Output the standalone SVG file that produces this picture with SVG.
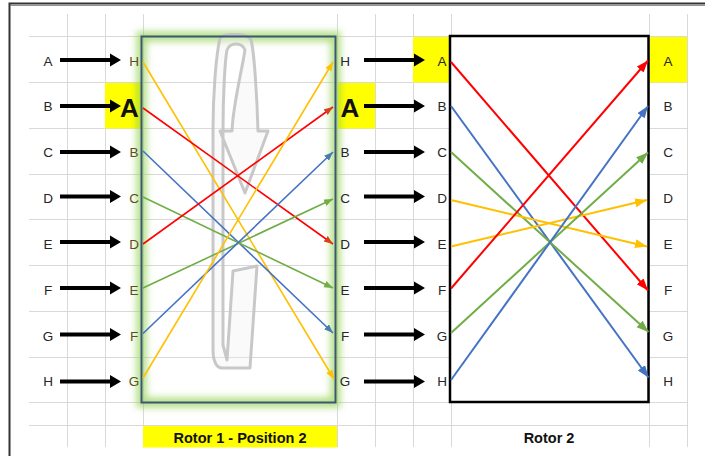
<svg xmlns="http://www.w3.org/2000/svg" xmlns:xlink="http://www.w3.org/1999/xlink" width="705" height="456" viewBox="0 0 705 456">
<style>
.grid line{stroke:#d9d9d9;stroke-width:1}
.lbl{font-family:"Liberation Sans",Arial,sans-serif;font-size:13.5px;fill:#262626;text-anchor:middle}
.r1l{fill:#5b4f24}
.big{font-family:"Liberation Sans",Arial,sans-serif;font-size:26px;font-weight:bold;fill:#111;text-anchor:middle}
.cap{font-family:"Liberation Sans",Arial,sans-serif;font-size:14.5px;font-weight:bold;fill:#111;text-anchor:middle}
.c1 line{stroke-width:1.6;fill:none}
.c2 line{stroke-width:2;fill:none}
.y{stroke:#FFC000}.r{stroke:#FF0000}.b{stroke:#4472C4}.g{stroke:#70AD47}
.hl{fill:#FFFF00}
</style>
<defs>
<filter id="glow" x="-20%" y="-10%" width="140%" height="120%"><feGaussianBlur stdDeviation="3.5"/></filter>
<path id="arr" d="M0,-2 H50 V-6.5 L61,0 L50,6.5 V2 H0 Z" fill="#000"/>
<marker id="mY1" markerUnits="userSpaceOnUse" markerWidth="10" markerHeight="8" refX="9" refY="3.5" orient="auto"><path d="M0,0 L9,3.5 L0,7 Z" fill="#FFC000"/></marker>
<marker id="mR1" markerUnits="userSpaceOnUse" markerWidth="10" markerHeight="8" refX="9" refY="3.5" orient="auto"><path d="M0,0 L9,3.5 L0,7 Z" fill="#D8401A"/></marker>
<marker id="mB1" markerUnits="userSpaceOnUse" markerWidth="10" markerHeight="8" refX="9" refY="3.5" orient="auto"><path d="M0,0 L9,3.5 L0,7 Z" fill="#4a7cb4"/></marker>
<marker id="mG1" markerUnits="userSpaceOnUse" markerWidth="10" markerHeight="8" refX="9" refY="3.5" orient="auto"><path d="M0,0 L9,3.5 L0,7 Z" fill="#70AD47"/></marker>
<marker id="mY2" markerUnits="userSpaceOnUse" markerWidth="13" markerHeight="10" refX="12" refY="4.5" orient="auto"><path d="M0,0 L12,4.5 L0,9 Z" fill="#FFC000"/></marker>
<marker id="mR2" markerUnits="userSpaceOnUse" markerWidth="13" markerHeight="10" refX="12" refY="4.5" orient="auto"><path d="M0,0 L12,4.5 L0,9 Z" fill="#FF0000"/></marker>
<marker id="mB2" markerUnits="userSpaceOnUse" markerWidth="13" markerHeight="10" refX="12" refY="4.5" orient="auto"><path d="M0,0 L12,4.5 L0,9 Z" fill="#4472C4"/></marker>
<marker id="mG2" markerUnits="userSpaceOnUse" markerWidth="13" markerHeight="10" refX="12" refY="4.5" orient="auto"><path d="M0,0 L12,4.5 L0,9 Z" fill="#70AD47"/></marker>
</defs>
<rect x="0" y="0" width="705" height="456" fill="#fff"/>
<!-- sheet frame -->
<path d="M9.5,456 V3.5 H705" fill="none" stroke="#333" stroke-width="2"/>
<path d="M10,5.5 H705" fill="none" stroke="#777" stroke-width="0.8"/>
<!-- grid -->
<g class="grid">
<line x1="29" y1="36.5" x2="687.5" y2="36.5"/>
<line x1="29" y1="82.5" x2="687.5" y2="82.5"/>
<line x1="29" y1="128.5" x2="687.5" y2="128.5"/>
<line x1="29" y1="174.5" x2="687.5" y2="174.5"/>
<line x1="29" y1="219.5" x2="687.5" y2="219.5"/>
<line x1="29" y1="265.5" x2="687.5" y2="265.5"/>
<line x1="29" y1="311.5" x2="687.5" y2="311.5"/>
<line x1="29" y1="357.5" x2="687.5" y2="357.5"/>
<line x1="29" y1="402.5" x2="687.5" y2="402.5"/>
<line x1="29" y1="425.5" x2="687.5" y2="425.5"/>
<line x1="67.5" y1="14" x2="67.5" y2="447"/>
<line x1="105.5" y1="14" x2="105.5" y2="447"/>
<line x1="143.5" y1="14" x2="143.5" y2="447"/>
<line x1="337.5" y1="14" x2="337.5" y2="447"/>
<line x1="375.5" y1="14" x2="375.5" y2="447"/>
<line x1="413.5" y1="14" x2="413.5" y2="447"/>
<line x1="451.5" y1="14" x2="451.5" y2="447"/>
<line x1="649.5" y1="14" x2="649.5" y2="447"/>
<line x1="687.5" y1="14" x2="687.5" y2="447"/>
</g>
<!-- highlighted cells -->
<rect class="hl" x="105" y="83" width="37" height="45.5"/>
<rect class="hl" x="338" y="83" width="37" height="45.5"/>
<rect class="hl" x="413" y="37" width="37" height="45.5"/>
<rect class="hl" x="650" y="37" width="37" height="45.5"/>
<rect class="hl" x="143" y="426" width="194" height="21.5"/>
<!-- rotor 1 node -->
<g id="rotor1">
<rect x="141.5" y="36.5" width="194" height="366" fill="none" stroke="#92D050" stroke-width="10" opacity="0.7" filter="url(#glow)"/>
<path d="M245,193 L268,131 L258,131 C257,95 254,50 251,40 C248,33 224,33 220,38 C216,55 213,95 213,130 L213,350 C213,362 217,368 222,368 L250,368 L257,266 L233,271 L227,360 L223,345 L223,130 C223,95 225,60 227,50 C230,42 242,42 245,50 C242,70 233,105 232,131 L220,131 Z" fill="#f2f2f2" fill-opacity="0.35" stroke="#c2c2c2" stroke-opacity="0.9" stroke-width="3" stroke-linejoin="round"/>
<rect x="141.5" y="36.5" width="194" height="366" fill="none" stroke="#3b5676" stroke-width="2"/>
</g>
<!-- rotor 2 node -->
<g id="rotor2">
<rect x="450" y="36" width="198.5" height="366" fill="#fff" stroke="#000" stroke-width="2.5"/>
</g>
<!-- connectors -->
<g id="connectors">
<g id="input-arrows">
<use xlink:href="#arr" href="#arr" x="60" y="60"/>
<use xlink:href="#arr" href="#arr" x="60" y="106"/>
<use xlink:href="#arr" href="#arr" x="60" y="152"/>
<use xlink:href="#arr" href="#arr" x="60" y="196.5"/>
<use xlink:href="#arr" href="#arr" x="60" y="242"/>
<use xlink:href="#arr" href="#arr" x="60" y="288"/>
<use xlink:href="#arr" href="#arr" x="60" y="334.5"/>
<use xlink:href="#arr" href="#arr" x="60" y="381.5"/>
</g>
<g id="mid-arrows">
<use xlink:href="#arr" href="#arr" x="364" y="60"/>
<use xlink:href="#arr" href="#arr" x="364" y="106"/>
<use xlink:href="#arr" href="#arr" x="364" y="152"/>
<use xlink:href="#arr" href="#arr" x="364" y="196.5"/>
<use xlink:href="#arr" href="#arr" x="364" y="242"/>
<use xlink:href="#arr" href="#arr" x="364" y="288"/>
<use xlink:href="#arr" href="#arr" x="364" y="334.5"/>
<use xlink:href="#arr" href="#arr" x="364" y="381.5"/>
</g>
<g class="c1" id="rotor1-wiring">
<line class="y" x1="143" y1="62" x2="334" y2="379" marker-end="url(#mY1)"/>
<line class="r" x1="143" y1="108" x2="333" y2="244" marker-end="url(#mR1)"/>
<line class="b" x1="143" y1="151" x2="333" y2="333" marker-end="url(#mB1)"/>
<line class="g" x1="143" y1="197" x2="333" y2="288" marker-end="url(#mG1)"/>
<line class="r" x1="143" y1="244" x2="333" y2="107" marker-end="url(#mR1)"/>
<line class="g" x1="143" y1="288" x2="333" y2="199" marker-end="url(#mG1)"/>
<line class="b" x1="143" y1="333.5" x2="333" y2="152" marker-end="url(#mB1)"/>
<line class="y" x1="143" y1="378" x2="333" y2="62" marker-end="url(#mY1)"/>
</g>
<g class="c2" id="rotor2-wiring">
<line class="r" x1="451" y1="62" x2="648" y2="290.5" marker-end="url(#mR2)"/>
<line class="b" x1="451" y1="106" x2="648.5" y2="377.5" marker-end="url(#mB2)"/>
<line class="g" x1="451" y1="152" x2="648.5" y2="332" marker-end="url(#mG2)"/>
<line class="y" x1="451" y1="200" x2="647" y2="246.5" marker-end="url(#mY2)"/>
<line class="y" x1="451" y1="246.5" x2="647" y2="200" marker-end="url(#mY2)"/>
<line class="r" x1="451" y1="288.5" x2="648" y2="60.5" marker-end="url(#mR2)"/>
<line class="g" x1="451" y1="333" x2="648" y2="152.5" marker-end="url(#mG2)"/>
<line class="b" x1="451" y1="380" x2="648" y2="106" marker-end="url(#mB2)"/>
</g>
</g>
<!-- labels -->
<g id="input-labels">
<text class="lbl" x="48" y="65.5">A</text>
<text class="lbl" x="48" y="111.3">B</text>
<text class="lbl" x="48" y="157.2">C</text>
<text class="lbl" x="48" y="203">D</text>
<text class="lbl" x="48" y="248.9">E</text>
<text class="lbl" x="48" y="294.7">F</text>
<text class="lbl" x="48" y="340.6">G</text>
<text class="lbl" x="48" y="386.4">H</text>
</g>
<g id="rotor1-in-labels">
<text class="lbl r1l" x="134" y="65.5">H</text>
<text class="big" x="129.5" y="117">A</text>
<text class="lbl r1l" x="134" y="157.2">B</text>
<text class="lbl r1l" x="134" y="203">C</text>
<text class="lbl r1l" x="134" y="248.9">D</text>
<text class="lbl r1l" x="134" y="294.7">E</text>
<text class="lbl r1l" x="134" y="340.6">F</text>
<text class="lbl r1l" x="134" y="386.4">G</text>
</g>
<g id="rotor1-out-labels">
<text class="lbl" x="345" y="65.5">H</text>
<text class="big" x="350" y="117">A</text>
<text class="lbl" x="345" y="157.2">B</text>
<text class="lbl" x="345" y="203">C</text>
<text class="lbl" x="345" y="248.9">D</text>
<text class="lbl" x="345" y="294.7">E</text>
<text class="lbl" x="345" y="340.6">F</text>
<text class="lbl" x="345" y="386.4">G</text>
</g>
<g id="rotor2-in-labels">
<text class="lbl" x="442" y="65.5">A</text>
<text class="lbl" x="442" y="111.3">B</text>
<text class="lbl" x="442" y="157.2">C</text>
<text class="lbl" x="442" y="203">D</text>
<text class="lbl" x="442" y="248.9">E</text>
<text class="lbl" x="442" y="294.7">F</text>
<text class="lbl" x="442" y="340.6">G</text>
<text class="lbl" x="442" y="386.4">H</text>
</g>
<g id="rotor2-out-labels">
<text class="lbl" x="668" y="65.5">A</text>
<text class="lbl" x="668" y="111.3">B</text>
<text class="lbl" x="668" y="157.2">C</text>
<text class="lbl" x="668" y="203">D</text>
<text class="lbl" x="668" y="248.9">E</text>
<text class="lbl" x="668" y="294.7">F</text>
<text class="lbl" x="668" y="340.6">G</text>
<text class="lbl" x="668" y="386.4">H</text>
</g>
<g id="captions">
<text class="cap" x="240" y="443">Rotor 1 - Position 2</text>
<text class="cap" x="549" y="443">Rotor 2</text>
</g>
</svg>
